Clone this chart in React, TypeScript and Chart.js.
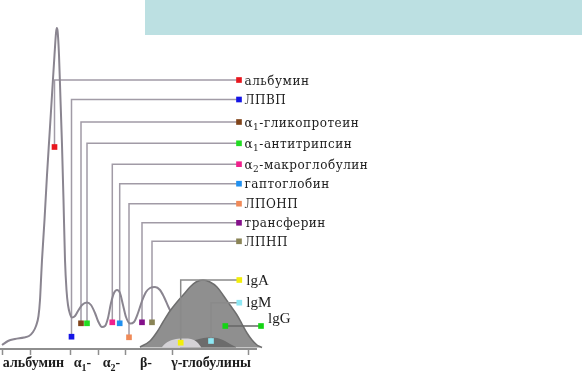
import { useEffect, useRef } from 'react';
import { Chart, registerables } from 'chart.js';

Chart.register(...registerables);

// ---- Electrophoresis curve (mobility -> intensity) ----
const curveX = [2, 8, 15, 24, 29, 33, 36, 38.5, 40, 41, 42, 44.5, 47, 49.5, 52, 54.5, 56, 56.8, 57.6, 59, 60.5, 62, 63.5, 65, 66.5, 68, 70, 72, 75, 78, 82, 87, 91, 95, 98, 102, 105, 108, 111, 114, 117, 120, 123, 126, 130, 134, 138, 142, 146, 150, 155, 160, 164, 168, 172, 176];
const curveY = [4, 8, 10, 11.5, 13, 17, 23, 33, 49, 69, 89, 129, 174, 214, 254, 294, 316, 321, 318, 294, 249, 204, 149, 89, 59, 44, 35, 31.5, 33, 38, 44, 46.5, 44, 36, 28, 22, 23, 31, 46, 56, 59, 56, 44, 32, 25.5, 27, 36, 48, 57, 61, 62, 59, 52, 43, 35, 29];

// ---- γ-globulin hump ----
const gammaX = [140, 150, 157, 163, 170, 177, 184, 190, 196, 203, 210, 217, 223, 230, 237, 242, 247, 252, 257, 262];
const gammaY = [2, 8, 17, 27, 38, 47, 55, 62, 67, 69, 67, 62, 54, 44, 34, 25, 16, 9, 4, 1.5];
const igmBandX = [180, 190, 199, 208, 217, 225, 231, 236];
const igmBandY = [2, 7, 10, 11.5, 11, 8, 4.5, 2];
const igaBandX = [162, 166, 172, 180, 188, 194, 198, 201];
const igaBandY = [2, 6, 9, 10.5, 10.5, 9, 6, 2];

// ---- Protein fractions (key list) ----
const fractionNames = ['альбумин', 'ЛПВП', 'α₁-гликопротеин', 'α₁-антитрипсин', 'α₂-макроглобулин', 'гаптоглобин', 'ЛПОНП', 'трансферин', 'ЛПНП'];
const fractionColors = ['#e8161e', '#1414e6', '#80441a', '#22dc22', '#f0208c', '#2090f0', '#f08a58', '#84108a', '#8a8456'];
const fractionMobility = [54.5, 71.5, 81, 87, 112.3, 119.7, 129, 142, 152];
const fractionLevel = [202, 12.3, 25.7, 25.7, 26.7, 25.7, 11.7, 26.7, 26.7];
const fractionKeyRow = [269, 249.5, 227, 205.7, 184.8, 165.3, 145.3, 126.2, 107.7];

// ---- Immunoglobulins ----
const igNames = ['lgA', 'lgM', 'lgG'];
const igColors = ['#f2ee0a', '#8ee8f4', '#14d414'];
const igMobility = [180.7, 211, 225.3];
const igLevel = [6.3, 8, 23];
const igKeyRow = [69, 46.3, 23];
const igKeyX = [239.3, 239.3, 261];

// ---- Axis ----
const axisTicks = [2, 30, 70, 98, 125, 172, 248];
const bandLabels = ['альбумин', 'α₁-', 'α₂-', 'β-', 'γ-глобулины'];
const bandCenters = [33.5, 82.5, 111.5, 146, 211];

const KEY_X = 239;
const LEADER = '#a19ba6';
const SUBS = '₀₁₂₃₄₅₆₇₈₉';

function drawRich(ctx: CanvasRenderingContext2D, text: string, x: number, y: number, size: number, family: string, weight: string, draw: boolean): number {
  let cx = x;
  let run = '';
  const flush = () => {
    if (!run) return;
    ctx.font = `${weight} ${size}px ${family}`;
    if (draw) ctx.fillText(run, cx, y);
    cx += ctx.measureText(run).width;
    run = '';
  };
  for (const ch of text) {
    const s = SUBS.indexOf(ch);
    if (s >= 0) {
      flush();
      const ss = Math.round(size * 0.72);
      ctx.font = `${weight} ${ss}px ${family}`;
      if (draw) ctx.fillText(String(s), cx, y + size * 0.28);
      cx += ctx.measureText(String(s)).width;
    } else run += ch;
  }
  flush();
  return cx - x;
}

const decorPlugin = {
  id: 'decor',
  beforeDraw(chart: any) {
    const ctx = chart.ctx;
    ctx.save();
    ctx.fillStyle = '#bce0e2';
    ctx.fillRect(145, 0, 437, 35);
    ctx.restore();
  },
  beforeDatasetsDraw(chart: any) {
    const { ctx, scales } = chart;
    const xs = scales.x, ys = scales.y;
    const y0 = ys.getPixelForValue(0);
    ctx.save();
    ctx.strokeStyle = '#8e8e8e';
    ctx.lineWidth = 2;
    ctx.beginPath();
    ctx.moveTo(xs.getPixelForValue(0), y0);
    ctx.lineTo(xs.getPixelForValue(257), y0);
    ctx.stroke();
    ctx.lineWidth = 1.5;
    for (const t of axisTicks) {
      const px = Math.round(xs.getPixelForValue(t)) + 0.5;
      ctx.beginPath();
      ctx.moveTo(px, y0);
      ctx.lineTo(px, y0 + 6);
      ctx.stroke();
    }
    ctx.restore();
  },
  afterDatasetsDraw(chart: any) {
    const { ctx, scales } = chart;
    const xs = scales.x, ys = scales.y;
    ctx.save();
    ctx.fillStyle = '#1c1c1c';
    ctx.textBaseline = 'alphabetic';
    // key labels
    (ctx as any).letterSpacing = '0.5px';
    fractionNames.forEach((name, i) => {
      const px = xs.getPixelForValue(KEY_X) + 5.5;
      const py = ys.getPixelForValue(fractionKeyRow[i]) + 4.5;
      drawRich(ctx, name, px, py, 12, '"DejaVu Serif"', 'normal', true);
    });
    (ctx as any).letterSpacing = '0px';
    igNames.forEach((name, i) => {
      const px = xs.getPixelForValue(igKeyX[i]) + 7;
      const py = ys.getPixelForValue(igKeyRow[i]) + (i === 2 ? -3 : 4.5);
      drawRich(ctx, name, px, py, 15, '"Liberation Serif"', 'normal', true);
    });
    // band labels
    const yb = ys.getPixelForValue(0) + 18;
    bandLabels.forEach((name, i) => {
      const c = xs.getPixelForValue(bandCenters[i]);
      const w = drawRich(ctx, name, 0, 0, 14, '"Liberation Serif"', 'bold', false);
      drawRich(ctx, name, c - w / 2, yb, 14, '"Liberation Serif"', 'bold', true);
    });
    ctx.restore();
  },
};

function pts(xs: number[], ys: number[]) {
  return xs.map((x, i) => ({ x, y: ys[i] }));
}

export default function App() {
  const ref = useRef<HTMLCanvasElement | null>(null);
  useEffect(() => {
    if (!ref.current) return;
    const datasets: any[] = [];
    // leader lines for fractions
    fractionNames.forEach((_, i) => {
      datasets.push({
        type: 'line',
        data: [
          { x: fractionMobility[i], y: fractionLevel[i] },
          { x: fractionMobility[i], y: fractionKeyRow[i] },
          { x: KEY_X, y: fractionKeyRow[i] },
        ],
        borderColor: LEADER,
        borderWidth: 1.5,
        pointRadius: 0,
        tension: 0,
        fill: false,
        clip: false,
        order: 6,
      });
    });
    // main curve
    datasets.push({
      type: 'line',
      data: pts(curveX, curveY),
      borderColor: '#8a8590',
      borderWidth: 2,
      pointRadius: 0,
      cubicInterpolationMode: 'monotone',
      fill: false,
      clip: false,
      order: 5,
    });
    // gamma hump
    datasets.push({
      type: 'line',
      data: pts(gammaX, gammaY),
      borderColor: '#6e6e6e',
      backgroundColor: '#8f8f8f',
      borderWidth: 1.5,
      pointRadius: 0,
      cubicInterpolationMode: 'monotone',
      fill: { value: 1.5 },
      clip: false,
      order: 4,
    });
    datasets.push({
      type: 'line',
      data: pts(igmBandX, igmBandY),
      borderColor: 'rgba(0,0,0,0)',
      backgroundColor: '#6c6c6c',
      borderWidth: 0,
      pointRadius: 0,
      cubicInterpolationMode: 'monotone',
      fill: { value: 1.5 },
      clip: false,
      order: 3,
    });
    datasets.push({
      type: 'line',
      data: pts(igaBandX, igaBandY),
      borderColor: 'rgba(0,0,0,0)',
      backgroundColor: '#d4d2d6',
      borderWidth: 0,
      pointRadius: 0,
      cubicInterpolationMode: 'monotone',
      fill: { value: 1.5 },
      clip: false,
      order: 2,
    });
    // immunoglobulin leaders
    igNames.forEach((_, i) => {
      const data = i === 2
        ? [{ x: igMobility[i], y: igLevel[i] }, { x: igKeyX[i], y: igKeyRow[i] }]
        : [{ x: igMobility[i], y: igLevel[i] }, { x: igMobility[i], y: igKeyRow[i] }, { x: igKeyX[i], y: igKeyRow[i] }];
      datasets.push({
        type: 'line',
        data,
        borderColor: i === 2 ? '#666666' : '#8a8a8a',
        borderWidth: 1.5,
        pointRadius: 0,
        tension: 0,
        fill: false,
        clip: false,
        order: 1,
      });
    });
    // markers
    const mData: any[] = [];
    const mColors: string[] = [];
    fractionNames.forEach((_, i) => {
      mData.push({ x: fractionMobility[i], y: fractionLevel[i] });
      mColors.push(fractionColors[i]);
      mData.push({ x: KEY_X, y: fractionKeyRow[i] });
      mColors.push(fractionColors[i]);
    });
    igNames.forEach((_, i) => {
      mData.push({ x: igMobility[i], y: igLevel[i] });
      mColors.push(igColors[i]);
      mData.push({ x: igKeyX[i], y: igKeyRow[i] });
      mColors.push(igColors[i]);
    });
    datasets.push({
      type: 'scatter',
      data: mData,
      pointStyle: 'rect',
      pointRadius: 4,
      pointBackgroundColor: mColors,
      pointBorderWidth: 0,
      borderWidth: 0,
      showLine: false,
      clip: false,
      order: 0,
    });

    const chart = new Chart(ref.current, {
      type: 'line',
      data: { datasets },
      options: {
        responsive: false,
        animation: false,
        devicePixelRatio: 1,
        layout: { autoPadding: false, padding: { left: 0, right: 322, top: 0, bottom: 24 } },
        scales: {
          x: { type: 'linear', min: 0, max: 260, display: false },
          y: { type: 'linear', min: 0, max: 349, display: false },
        },
        plugins: { legend: { display: false }, tooltip: { enabled: false } },
        events: [],
      },
      plugins: [decorPlugin],
    } as any);
    return () => chart.destroy();
  }, []);
  return (
    <div style={{ position: 'fixed', left: 0, top: 0, width: 582, height: 373, background: '#fff' }}>
      <canvas ref={ref} width={582} height={373} style={{ display: 'block', width: 582, height: 373 }} />
    </div>
  );
}
